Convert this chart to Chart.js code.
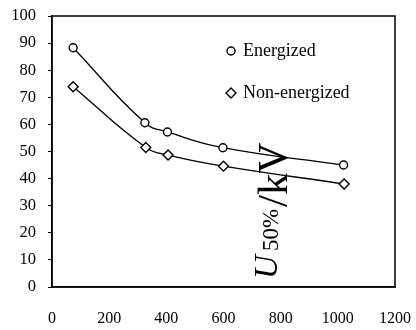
<!DOCTYPE html>
<html lang="en">
<head>
<meta charset="UTF-8">
<script src="https://cdn.jsdelivr.net/npm/chart.js"></script>
<title>U50% vs distance</title>
<style>
    body { margin: 0; background: #fff; }
    #wrap { width: 416px; height: 330px; }
</style>
</head>
<body>
<div id="wrap"><canvas id="chart" width="416" height="330"></canvas></div>
<script>
    // data
    const xEnergized = [74, 325, 404, 598, 1020];
    const yEnergized = [88.3, 60.6, 57.2, 51.4, 45.0];
    const xNonEnergized = [74, 328, 406, 600, 1022];
    const yNonEnergized = [73.9, 51.5, 48.7, 44.6, 38.0];
    const seriesNames = ['Energized', 'Non-energized'];
    const xTicks = [0, 200, 400, 600, 800, 1000, 1200];
    const yTicks = [0, 10, 20, 30, 40, 50, 60, 70, 80, 90, 100];

    const toPoints = (xs, ys) => xs.map((x, i) => ({ x: x, y: ys[i] }));
    const serif = '"Liberation Serif", "Times New Roman", serif';

    // box round the plot, legend inside and the rotated axis title
    const extras = {
        id: 'extras',
        afterDraw(chart) {
            const ctx = chart.ctx;
            const a = chart.chartArea;
            ctx.save();
            ctx.strokeStyle = '#000';
            ctx.lineWidth = 1.5;
            ctx.strokeRect(a.left, a.top, a.right - a.left, a.bottom - a.top);

            // legend
            const rows = [{ y: 51, style: 'circle' }, { y: 93, style: 'rectRot' }];
            rows.forEach((r, i) => {
                ctx.lineWidth = 1.4;
                ctx.strokeStyle = '#000';
                ctx.fillStyle = '#fff';
                Chart.helpers.drawPoint(ctx, { pointStyle: r.style, radius: r.style === 'circle' ? 4 : 5, borderWidth: 1.4 }, 231, r.y);
                ctx.fillStyle = '#000';
                ctx.font = '18px ' + serif;
                ctx.textBaseline = 'middle';
                ctx.textAlign = 'left';
                ctx.fillText(seriesNames[i], 243, r.y);
            });

            // axis title, rotated, sitting inside the plot
            ctx.translate(277, 279);
            ctx.rotate(-Math.PI / 2);
            ctx.textBaseline = 'alphabetic';
            ctx.fillStyle = '#000';
            ctx.font = 'italic 33px ' + serif;
            ctx.fillText('U', 0, 0);
            ctx.font = '23px ' + serif;
            ctx.fillText('50%', 28, 1);
            ctx.font = '43px ' + serif;
            ctx.fillText('/kV', 72, 10);
            ctx.restore();
        }
    };

    const pointDefaults = {
        borderColor: '#000',
        backgroundColor: '#fff',
        borderWidth: 1.3,
        pointBorderWidth: 1.4,
        showLine: true,
        tension: 0.45
    };

    new Chart(document.getElementById('chart'), {
        type: 'scatter',
        data: {
            datasets: [
                Object.assign({
                    label: seriesNames[0],
                    data: toPoints(xEnergized, yEnergized),
                    pointStyle: 'circle',
                    pointRadius: 4
                }, pointDefaults),
                Object.assign({
                    label: seriesNames[1],
                    data: toPoints(xNonEnergized, yNonEnergized),
                    pointStyle: 'rectRot',
                    pointRadius: 5
                }, pointDefaults)
            ]
        },
        options: {
            responsive: false,
            animation: false,
            layout: { padding: { top: 16, right: 21, left: 0, bottom: 0 } },
            plugins: { legend: { display: false }, tooltip: { enabled: false } },
            scales: {
                x: {
                    type: 'linear',
                    min: 0,
                    max: 1200,
                    afterBuildTicks: s => { s.ticks = xTicks.map(v => ({ value: v })); },
                    afterFit: s => { s.height = 43; s.paddingLeft = 0; s.paddingRight = 0; },
                    grid: { display: false, drawTicks: false },
                    border: { color: '#000', width: 1.5 },
                    ticks: { color: '#000', font: { family: serif, size: 16 }, padding: 22, maxRotation: 0, callback: v => String(v) }
                },
                y: {
                    min: 0,
                    max: 100,
                    afterBuildTicks: s => { s.ticks = yTicks.map(v => ({ value: v })); },
                    afterFit: s => { s.width = 52; s.paddingTop = 0; s.paddingBottom = 0; },
                    grid: { drawOnChartArea: false, drawTicks: true, tickLength: 4, color: '#000', tickWidth: 1 },
                    border: { color: '#000', width: 1.5 },
                    ticks: { color: '#000', font: { family: serif, size: 16.5 }, padding: 12 }
                }
            }
        },
        plugins: [extras]
    });
</script>
</body>
</html>
